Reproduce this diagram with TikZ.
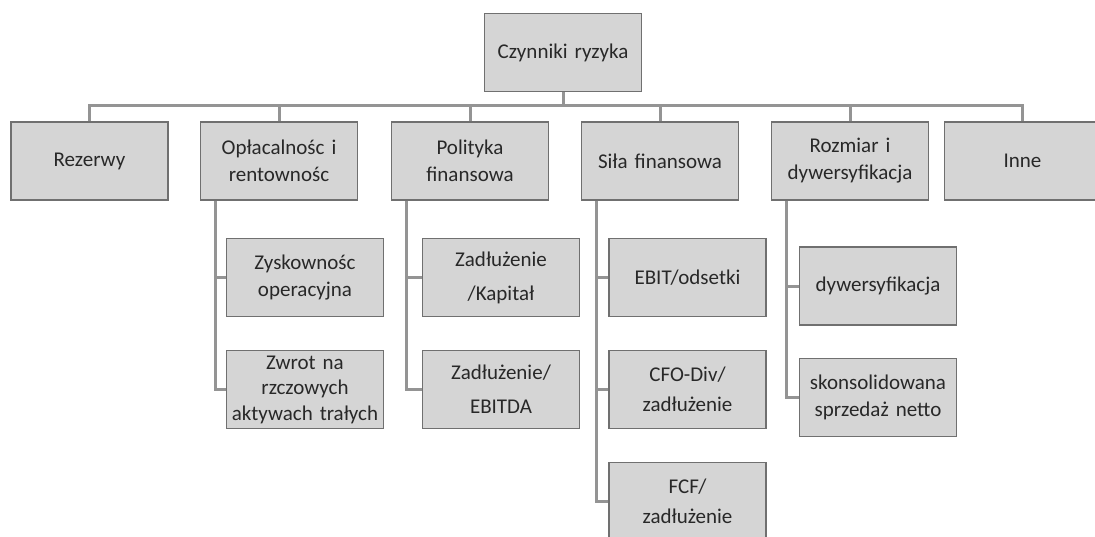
\documentclass[tikz,border=0pt]{standalone}
\usepackage{fontspec}
\setmainfont{Carlito}
\usetikzlibrary{calc,positioning}
\definecolor{BoxGray}{RGB}{213,213,213}
\definecolor{EdgeGray}{RGB}{112,112,112}
\definecolor{LinkGray}{RGB}{148,148,148}
\definecolor{InkGray}{RGB}{40,40,40}

\tikzset{
  factor/.style={draw=EdgeGray, line width=1.1pt, fill=BoxGray,
    minimum width=157pt, minimum height=78pt, text width=152pt,
    inner sep=2pt, align=center, text=InkGray,
    font=\fontsize{21}{27}\selectfont},
  link/.style={LinkGray, line width=3pt},
}

\begin{document}
\begin{tikzpicture}[x=1pt,y=-1pt]
\clip (0,0) rectangle (1095,536);

% root and first level
\node[factor] (root) at (563,52.5) {Czynniki ryzyka};
\node[factor] (rez)  at (89.5,161) {Rezerwy};
\node[factor] (opl)  at (279,161)  {Opłacalnośc i\\rentownośc};
\node[factor] (pol)  at (470,161)  {Polityka\\finansowa};
\node[factor] (sila) at (660,161)  {Siła finansowa};
\node[factor] (rozm) at (850,161)  {Rozmiar i\\dywersyfikacja};
\node[factor, minimum width=143pt] (inne) at (1022.5,161) {Inne};

\coordinate (bar) at (563,105);
\draw[link] (root.south) -- (bar);
\foreach \n in {rez,opl,pol,sila,rozm,inne}
  \draw[link] (bar) -| (\n.north);

% second level
\node[factor] (zysk) at (305,277.5) {Zyskownośc\\operacyjna};
\node[factor, font=\fontsize{21}{25.5}\selectfont] (zwrot) at (305,389.5) {Zwrot na\\rzczowych\\aktywach trałych};

\node[factor] (kap) at (501,277.5) {Zadłużenie\\[7pt]/Kapitał};
\node[factor] (ebitda) at (501,389.5) {Zadłużenie/\\[7pt]EBITDA};

\node[factor] (odset) at (687.5,277.5) {EBIT/odsetki};
\node[factor] (cfo) at (687.5,389.5) {CFO-Div/\\[3pt]zadłużenie};
\node[factor] (fcf) at (687.5,501.5) {FCF/\\[3pt]zadłużenie};

\node[factor] (dyw) at (878,286) {dywersyfikacja};
\node[factor] (sprz) at (878,397.5) {skonsolidowana\\sprzedaż netto};

\foreach \p/\c in {opl/zysk,opl/zwrot,pol/kap,pol/ebitda,sila/odset,sila/cfo,sila/fcf,rozm/dyw,rozm/sprz}
  \draw[link] ($(\p.south west)+(16,0)$) |- (\c.west);
\end{tikzpicture}
\end{document}
